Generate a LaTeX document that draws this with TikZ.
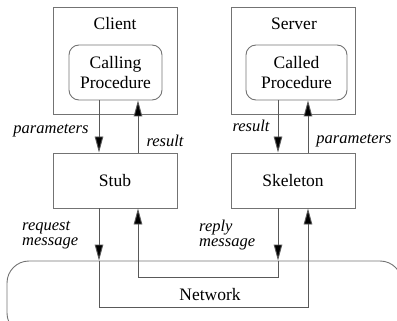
\documentclass[tikz,border=0pt]{standalone}
\usepackage{fontspec}
\setmainfont{Liberation Serif}
\usetikzlibrary{arrows.meta}
\begin{document}
\begin{tikzpicture}[x=1pt,y=-1pt,
  box/.style={draw=black!55,line width=0.9pt,inner sep=0pt},
  rbox/.style={box,rounded corners=10pt,align=center,font=\fontsize{17.5}{20.5}\selectfont},
  title/.style={font=\fontsize{17.5}{20}\selectfont,inner sep=0pt},
  lbl/.style={font=\fontsize{16.5}{15.5}\selectfont\itshape,inner sep=0pt,align=left},
  conn/.style={draw=black!65,line width=0.9pt},
  arr/.style={conn,-{Triangle[length=16pt,width=8.5pt,fill=black]}}]
\useasboundingbox (0,0) rectangle (397,321);
\clip (0,0) rectangle (397,321);
% boxes
\node[box,minimum width=124pt,minimum height=107pt] (client) at (115,60.5) {};
\node[title] (clientlbl) at (115,24) {Client};
\node[rbox,minimum width=93pt,minimum height=55pt] (calling) at (115.5,72.5) {Calling\\Procedure};
\node[box,minimum width=124pt,minimum height=107pt] (server) at (293,60.5) {};
\node[title] (serverlbl) at (294,24) {Server};
\node[rbox,minimum width=101pt,minimum height=55pt] (called) at (296.5,72.5) {Called\\Procedure};
\node[box,title,draw=black!55,minimum width=124pt,minimum height=55pt] (stub) at (115,180.5) {Stub};
\node[box,title,draw=black!55,minimum width=124pt,minimum height=55pt] (skeleton) at (293,180.5) {Skeleton};
\node[box,rounded corners=22pt,minimum width=395pt,minimum height=74pt] (network) at (204.5,298) {};
\node[title] (netlbl) at (210,295) {Network};
% x positions of connectors
\coordinate (xa) at (99,0);
\coordinate (xb) at (138,0);
\coordinate (xc) at (278,0);
\coordinate (xd) at (308,0);
\coordinate (ylow) at (0,307);
\coordinate (yhigh) at (0,277);
% client side
\draw[arr] (xa |- calling.south) -- (xa |- stub.north);
\draw[arr] (xb |- stub.north) -- (xb |- calling.south);
% server side
\draw[arr] (xc |- called.south) -- (xc |- skeleton.north);
\draw[arr] (xd |- skeleton.north) -- (xd |- called.south);
% request path
\draw[arr] (xa |- stub.south) -- (xa |- network.north);
\draw[arr] (xa |- network.north) -- (xa |- ylow) -- (xd |- ylow) -- (xd |- skeleton.south);
% reply path
\draw[arr] (xc |- skeleton.south) -- (xc |- network.north);
\draw[arr] (xc |- network.north) -- (xc |- yhigh) -- (xb |- yhigh) -- (xb |- stub.south);
% labels
\node[lbl] (lparam) at (51,131) {parameters};
\node[lbl] (lres) at (165,141) {result};
\node[lbl] (rres) at (251,126) {result};
\node[lbl] (rparam) at (354,141) {parameters};
\node[lbl,anchor=west] (req) at (22,235) {request\\message};
\node[lbl,anchor=west] (rep) at (199,235) {reply\\message};
\end{tikzpicture}
\end{document}
